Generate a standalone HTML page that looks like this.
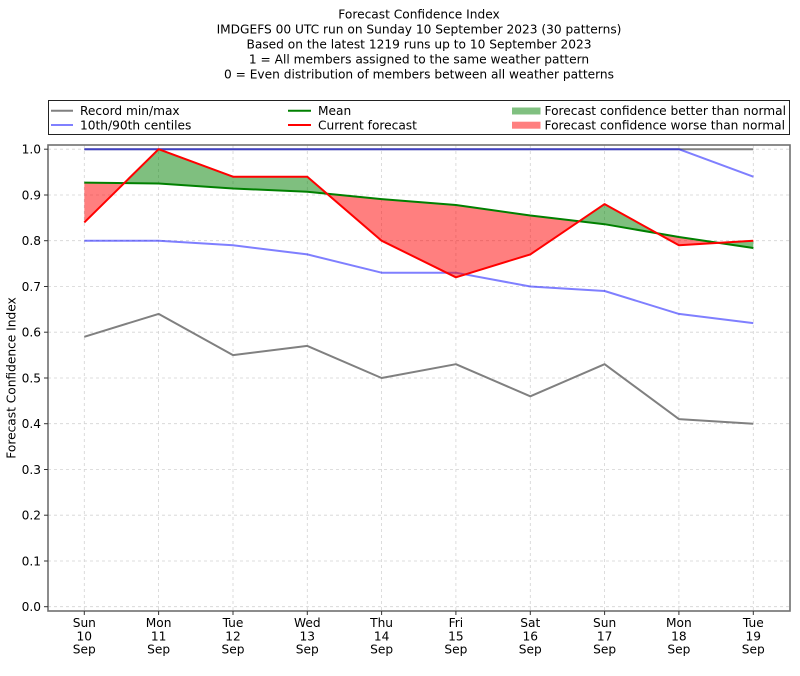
<!DOCTYPE html>
<html>
<head>
<meta charset="utf-8">
<style>
  html, body { margin:0; padding:0; background:#fff; }
  svg { display:block; }
  text { font-family: "DejaVu Sans", "Liberation Sans", sans-serif; font-size:12.2px; fill:#000; }
</style>
</head>
<body>
<svg width="800" height="676" viewBox="0 0 800 676" xmlns="http://www.w3.org/2000/svg">
  <rect x="0" y="0" width="800" height="676" fill="#fff"/>

  <!-- Title -->
  <g text-anchor="middle">
    <text x="419" y="18.5">Forecast Confidence Index</text>
    <text x="419" y="33.5">IMDGEFS 00 UTC run on Sunday 10 September 2023 (30 patterns)</text>
    <text x="419" y="48.5">Based on the latest 1219 runs up to 10 September 2023</text>
    <text x="419" y="63.5">1 = All members assigned to the same weather pattern</text>
    <text x="419" y="78.5">0 = Even distribution of members between all weather patterns</text>
  </g>

  <!-- Legend -->
  <rect x="48.5" y="100.5" width="741" height="34" fill="#fff" stroke="#222" stroke-width="1"/>
  <line x1="51" y1="110.7" x2="73" y2="110.7" stroke="#808080" stroke-width="2"/>
  <text x="80" y="115">Record min/max</text>
  <line x1="51" y1="125" x2="73" y2="125" stroke="#8080ff" stroke-width="2"/>
  <text x="80" y="129.4">10th/90th centiles</text>
  <line x1="288" y1="110.7" x2="311" y2="110.7" stroke="#008000" stroke-width="2"/>
  <text x="318" y="115">Mean</text>
  <line x1="288" y1="125" x2="311" y2="125" stroke="#ff0000" stroke-width="2"/>
  <text x="318" y="129.4">Current forecast</text>
  <rect x="512" y="107.5" width="28.5" height="7" fill="#80c080"/>
  <text x="544.5" y="115">Forecast confidence better than normal</text>
  <rect x="512" y="121.7" width="28.5" height="7" fill="#ff8080"/>
  <text x="544.5" y="129.4">Forecast confidence worse than normal</text>

  <!-- Grid -->
  <g stroke="#d3d3d3" stroke-width="0.8" stroke-dasharray="3,3" fill="none">
    <line x1="48" y1="606.7" x2="790" y2="606.7"/>
    <line x1="48" y1="561.0" x2="790" y2="561.0"/>
    <line x1="48" y1="515.2" x2="790" y2="515.2"/>
    <line x1="48" y1="469.5" x2="790" y2="469.5"/>
    <line x1="48" y1="423.7" x2="790" y2="423.7"/>
    <line x1="48" y1="378.0" x2="790" y2="378.0"/>
    <line x1="48" y1="332.2" x2="790" y2="332.2"/>
    <line x1="48" y1="286.5" x2="790" y2="286.5"/>
    <line x1="48" y1="240.7" x2="790" y2="240.7"/>
    <line x1="48" y1="195.0" x2="790" y2="195.0"/>
    <line x1="48" y1="149.2" x2="790" y2="149.2"/>
    <line x1="84.3" y1="145" x2="84.3" y2="611"/>
    <line x1="158.6" y1="145" x2="158.6" y2="611"/>
    <line x1="233.0" y1="145" x2="233.0" y2="611"/>
    <line x1="307.3" y1="145" x2="307.3" y2="611"/>
    <line x1="381.6" y1="145" x2="381.6" y2="611"/>
    <line x1="455.9" y1="145" x2="455.9" y2="611"/>
    <line x1="530.3" y1="145" x2="530.3" y2="611"/>
    <line x1="604.6" y1="145" x2="604.6" y2="611"/>
    <line x1="678.9" y1="145" x2="678.9" y2="611"/>
    <line x1="753.3" y1="145" x2="753.3" y2="611"/>
  </g>

  <!-- Record min/max -->
  <polyline fill="none" stroke="#808080" stroke-width="2" stroke-linejoin="round"
    points="84.3,149.2 158.6,149.2 233.0,149.2 307.3,149.2 381.6,149.2 455.9,149.2 530.3,149.2 604.6,149.2 678.9,149.2 753.3,149.2"/>
  <polyline fill="none" stroke="#808080" stroke-width="2" stroke-linejoin="round"
    points="84.3,336.8 158.6,313.9 233.0,355.1 307.3,345.9 381.6,378.0 455.9,364.2 530.3,396.3 604.6,364.2 678.9,419.1 753.3,423.7"/>

  <!-- Centiles -->
  <polyline fill="none" stroke="#0000ff" stroke-opacity="0.5" stroke-width="2" stroke-linejoin="round"
    points="84.3,149.2 158.6,149.2 233.0,149.2 307.3,149.2 381.6,149.2 455.9,149.2 530.3,149.2 604.6,149.2 678.9,149.2 753.3,176.7"/>
  <polyline fill="none" stroke="#0000ff" stroke-opacity="0.5" stroke-width="2" stroke-linejoin="round"
    points="84.3,240.7 158.6,240.7 233.0,245.3 307.3,254.4 381.6,272.7 455.9,272.7 530.3,286.5 604.6,291.0 678.9,313.9 753.3,323.1"/>

  <!-- Fills: worse (red) -->
  <g fill="#ff0000" fill-opacity="0.5" stroke="none">
    <polygon points="84.3,182.6 124.2,183.1 84.3,222.4"/>
    <polygon points="327.1,193.7 381.6,199.1 455.9,205.0 530.3,215.5 579.3,221.3 530.3,254.4 455.9,277.3 381.6,240.7"/>
    <polygon points="657.4,233.3 678.9,237.0 718.3,242.8 678.9,245.3"/>
  </g>
  <!-- Fills: better (green) -->
  <g fill="#008000" fill-opacity="0.5" stroke="none">
    <polygon points="124.2,183.1 158.6,149.2 233.0,176.7 307.3,176.7 327.1,193.7 307.3,191.7 233.0,188.5 158.6,183.5"/>
    <polygon points="579.3,221.3 604.6,204.1 657.4,233.3 604.6,224.2"/>
    <polygon points="718.3,242.8 753.3,240.7 753.3,248.0"/>
  </g>

  <!-- Mean -->
  <polyline fill="none" stroke="#008000" stroke-width="2" stroke-linejoin="round"
    points="84.3,182.6 158.6,183.5 233.0,188.5 307.3,191.7 381.6,199.1 455.9,205.0 530.3,215.5 604.6,224.2 678.9,237.0 753.3,248.0"/>
  <!-- Current forecast -->
  <polyline fill="none" stroke="#ff0000" stroke-width="2" stroke-linejoin="round"
    points="84.3,222.4 158.6,149.2 233.0,176.7 307.3,176.7 381.6,240.7 455.9,277.3 530.3,254.4 604.6,204.1 678.9,245.3 753.3,240.7"/>

  <!-- Spines -->
  <rect x="48" y="145" width="742" height="466" fill="none" stroke="#707070" stroke-width="1.6"/>

  <!-- Ticks -->
  <g stroke="#333" stroke-width="1">
    <line x1="44" y1="606.7" x2="48" y2="606.7"/>
    <line x1="44" y1="561.0" x2="48" y2="561.0"/>
    <line x1="44" y1="515.2" x2="48" y2="515.2"/>
    <line x1="44" y1="469.5" x2="48" y2="469.5"/>
    <line x1="44" y1="423.7" x2="48" y2="423.7"/>
    <line x1="44" y1="378.0" x2="48" y2="378.0"/>
    <line x1="44" y1="332.2" x2="48" y2="332.2"/>
    <line x1="44" y1="286.5" x2="48" y2="286.5"/>
    <line x1="44" y1="240.7" x2="48" y2="240.7"/>
    <line x1="44" y1="195.0" x2="48" y2="195.0"/>
    <line x1="44" y1="149.2" x2="48" y2="149.2"/>
    <line x1="84.3" y1="611" x2="84.3" y2="615"/>
    <line x1="158.6" y1="611" x2="158.6" y2="615"/>
    <line x1="233.0" y1="611" x2="233.0" y2="615"/>
    <line x1="307.3" y1="611" x2="307.3" y2="615"/>
    <line x1="381.6" y1="611" x2="381.6" y2="615"/>
    <line x1="455.9" y1="611" x2="455.9" y2="615"/>
    <line x1="530.3" y1="611" x2="530.3" y2="615"/>
    <line x1="604.6" y1="611" x2="604.6" y2="615"/>
    <line x1="678.9" y1="611" x2="678.9" y2="615"/>
    <line x1="753.3" y1="611" x2="753.3" y2="615"/>
  </g>

  <!-- Y tick labels -->
  <g text-anchor="end">
    <text x="41" y="611.1">0.0</text>
    <text x="41" y="565.4">0.1</text>
    <text x="41" y="519.6">0.2</text>
    <text x="41" y="473.9">0.3</text>
    <text x="41" y="428.1">0.4</text>
    <text x="41" y="382.4">0.5</text>
    <text x="41" y="336.6">0.6</text>
    <text x="41" y="290.9">0.7</text>
    <text x="41" y="245.1">0.8</text>
    <text x="41" y="199.4">0.9</text>
    <text x="41" y="153.6">1.0</text>
  </g>

  <!-- Y axis label -->
  <text x="0" y="0" text-anchor="middle" transform="translate(15.5,378) rotate(-90)">Forecast Confidence Index</text>

  <!-- X tick labels -->
  <g text-anchor="middle">
    <text x="84.3" y="627">Sun</text><text x="84.3" y="640.4">10</text><text x="84.3" y="653.5">Sep</text>
    <text x="158.6" y="627">Mon</text><text x="158.6" y="640.4">11</text><text x="158.6" y="653.5">Sep</text>
    <text x="233.0" y="627">Tue</text><text x="233.0" y="640.4">12</text><text x="233.0" y="653.5">Sep</text>
    <text x="307.3" y="627">Wed</text><text x="307.3" y="640.4">13</text><text x="307.3" y="653.5">Sep</text>
    <text x="381.6" y="627">Thu</text><text x="381.6" y="640.4">14</text><text x="381.6" y="653.5">Sep</text>
    <text x="455.9" y="627">Fri</text><text x="455.9" y="640.4">15</text><text x="455.9" y="653.5">Sep</text>
    <text x="530.3" y="627">Sat</text><text x="530.3" y="640.4">16</text><text x="530.3" y="653.5">Sep</text>
    <text x="604.6" y="627">Sun</text><text x="604.6" y="640.4">17</text><text x="604.6" y="653.5">Sep</text>
    <text x="678.9" y="627">Mon</text><text x="678.9" y="640.4">18</text><text x="678.9" y="653.5">Sep</text>
    <text x="753.3" y="627">Tue</text><text x="753.3" y="640.4">19</text><text x="753.3" y="653.5">Sep</text>
  </g>
</svg>
</body>
</html>
